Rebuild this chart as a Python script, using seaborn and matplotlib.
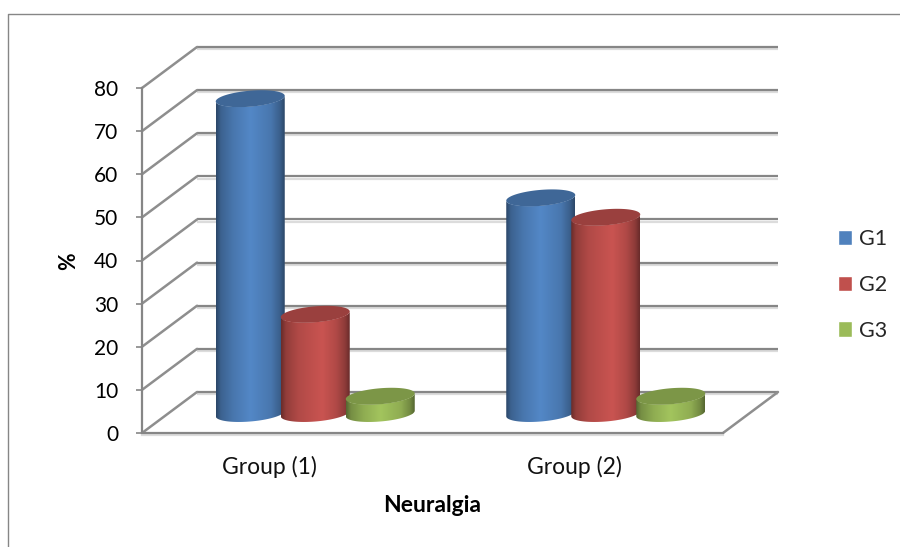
import numpy as np
import pandas as pd
import matplotlib
matplotlib.use("Agg")
import matplotlib.pyplot as plt
import matplotlib.patheffects as pe
from matplotlib.lines import Line2D
from matplotlib.patches import Polygon
from matplotlib.transforms import Affine2D
import seaborn as sns

# Chart data
groups = ["Group (1)", "Group (2)"]
series = ["G1", "G2", "G3"]
g1_values = [73, 50]
g2_values = [23, 45.5]
g3_values = [4, 4]
y_ticks = [0, 10, 20, 30, 40, 50, 60, 70, 80]
colors = ["#4F81BD", "#C0504D", "#9BBB59"]

WIDTH, HEIGHT = 900, 547
GRID = "#868686"

sns.set_theme(style="white")
plt.rcParams["font.family"] = ["Lato", "DejaVu Sans"]

df = pd.DataFrame({
    "group": groups * 3,
    "series": [s for s in series for _ in groups],
    "value": g1_values + g2_values + g3_values,
})

fig = plt.figure(figsize=(WIDTH / 100, HEIGHT / 100), dpi=100, facecolor="white")

# Front plane of the box, in pixel-derived figure fractions
left_px, base_px, w_px, h_px = 142, 433, 581, 345
ax = fig.add_axes([left_px / WIDTH, (HEIGHT - base_px) / HEIGHT, w_px / WIDTH, h_px / HEIGHT])
ax.set_xlim(-0.5, 1.5)
ax.set_ylim(0, 80)
ax.set_facecolor("none")
ax.set_zorder(1)
px_x = 2 / w_px
px_y = 80 / h_px

# Box depth
depth_x, depth_y = 55 * px_x, 41 * px_y
shadow = [pe.SimpleLineShadow(offset=(0, -1.6), shadow_color="#dcdcdc", alpha=1), pe.Normal()]
for t in y_ticks:
    ax.plot([-0.5 + depth_x, 1.5 + depth_x], [t + depth_y] * 2, color=GRID, lw=1.6,
            clip_on=False, solid_capstyle="butt", path_effects=shadow)
    ax.plot([-0.5, -0.5 + depth_x], [t, t + depth_y], color="#8e8e8e", lw=1.8, clip_on=False)
ax.plot([1.5, 1.5 + depth_x], [0, depth_y], color="#8e8e8e", lw=1.8, clip_on=False)

sns.despine(ax=ax)
for side in ("left", "bottom"):
    ax.spines[side].set_color(GRID)
    ax.spines[side].set_linewidth(1.6)
ax.spines["bottom"].set_path_effects(shadow)

ax.set_yticks(y_ticks)
ax.tick_params(axis="y", length=4.5, width=1.2, color=GRID, labelsize=15, labelcolor="black", pad=12.5, left=True)
ax.set_xticks([0, 1], groups)
ax.tick_params(axis="x", length=0, labelsize=16.5, labelcolor="#111111", pad=16.5)
for label, shift in zip(ax.get_xticklabels(), (-18, -3)):
    label.set_transform(label.get_transform() + Affine2D().translate(shift, 0))

ax.set_xlabel("Neuralgia", fontsize=16.5, fontweight="bold", va="center", color="black")
ax.xaxis.set_label_coords(0.499, (base_px - 505) / h_px)
ax.set_ylabel("%", fontsize=15.5, fontweight="bold", va="center", color="black")
ax.yaxis.set_label_coords((69 - left_px) / w_px, 0.4986)

# Cylinder layer: same scales as the front plane, moved halfway into the box
floor_px = 413.5
below = 10
ax_bars = fig.add_axes([(left_px + 28) / WIDTH, (HEIGHT - floor_px - below / px_y) / HEIGHT,
                        w_px / WIDTH, (h_px + below / px_y) / HEIGHT])
ax_bars.set_zorder(2)
sns.barplot(data=df, x="group", y="value", hue="series", order=groups, hue_order=series,
            palette=colors, saturation=1, width=3 * 65 * px_x, gap=0, errorbar=None, ax=ax_bars)
sns.move_legend(ax_bars, loc="upper left", bbox_to_anchor=(838 / WIDTH, (HEIGHT - 229) / HEIGHT),
                bbox_transform=fig.transFigure, frameon=False, title=None, fontsize=15.5,
                handlelength=0.66, handleheight=0.74, labelspacing=1.2, handletextpad=0.3,
                borderpad=0, borderaxespad=0)
ax_bars.set_autoscale_on(False)

half_width = 34.5 * px_x
ellipse_b = 8.0 * px_y
ellipse_tilt = 2.8 * px_y


def ellipse(cx, y, t):
    return np.column_stack([cx + half_width * np.cos(t),
                            y + ellipse_b * np.sin(t) + ellipse_tilt * np.cos(t)])


def shade(color, peak):
    base = np.array(matplotlib.colors.to_rgb(color))
    stops = [(0.0, 0.55), (0.07, 0.76), (0.25, 0.92), (peak, 1.05), (0.8, 0.92), (0.93, 0.74), (1.0, 0.55)]
    u = np.linspace(0, 1, 128)
    factor = np.interp(u, [s[0] for s in stops], [s[1] for s in stops])
    return np.clip(factor[:, None] * base, 0, 1)[None, :, :]


for i, (container, color) in enumerate(zip(ax_bars.containers, colors)):
    peak = 0.6 if i == 1 else 0.5
    gradient = shade(color, peak)
    top_color = np.array(matplotlib.colors.to_rgb(color)) * 0.8
    for bar in container:
        value = bar.get_height()
        cx = bar.get_x() + bar.get_width() / 2
        bar.set_zorder(3 + i)
        # Outline of the barrel: bottom rim, both sides, and the near half of the top rim
        lower = ellipse(cx, 0, np.linspace(np.pi, 2 * np.pi, 60))
        upper = ellipse(cx, value, np.linspace(2 * np.pi, np.pi, 60))
        body = Polygon(np.vstack([lower, upper]), closed=True, transform=ax_bars.transData)
        bar.set_clip_path(body)
        im = ax_bars.imshow(gradient, extent=(cx - half_width, cx + half_width, -below, value + 5),
                            aspect="auto", interpolation="bilinear", zorder=3 + i)
        im.set_clip_path(body)
        ax_bars.add_patch(Polygon(ellipse(cx, value, np.linspace(0, 2 * np.pi, 120)), closed=True,
                                  facecolor=top_color, edgecolor="none", zorder=3 + i))

ax_bars.set_xlim(-0.5, 1.5)
ax_bars.set_ylim(-below, 80)
ax_bars.axis("off")

# Chart-area border along the top and left
fig.add_artist(Line2D([7.5 / WIDTH, 7.5 / WIDTH, 1], [0, (HEIGHT - 13.5) / HEIGHT, (HEIGHT - 13.5) / HEIGHT],
                      color=GRID, lw=1.0, transform=fig.transFigure))

fig.savefig("out.png", dpi=100, facecolor="white")
